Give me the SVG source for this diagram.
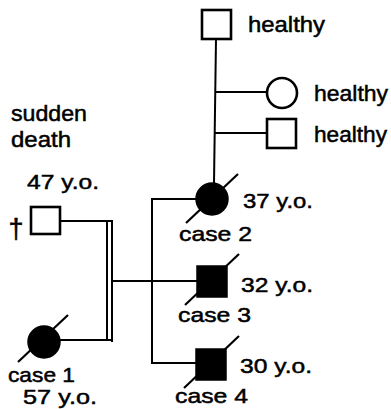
<svg xmlns="http://www.w3.org/2000/svg" width="391" height="409" viewBox="0 0 391 409">
<style>
.ln{stroke:#000;stroke-width:2;fill:none}
.open{fill:#fff;stroke:#000;stroke-width:2.6}
.fill{fill:#000;stroke:#000;stroke-width:1.5}
.sl{stroke:#000;stroke-width:2.2}
text{font-family:"Liberation Sans",Arial,sans-serif;fill:#000;stroke:#000;stroke-width:0.5}
.t{font-size:22px}
.n{font-size:21px}
</style>
<rect width="391" height="409" fill="#fff"/>
<g id="connectors">
<line class="ln" x1="216" y1="39" x2="214" y2="183"/>
<line class="ln" x1="215" y1="92" x2="267" y2="92"/>
<line class="ln" x1="215" y1="133" x2="267" y2="133"/>
<line class="ln" x1="61" y1="221" x2="113" y2="221"/>
<line class="ln" x1="112" y1="221" x2="112" y2="342"/>
<line class="ln" x1="107" y1="222" x2="107" y2="340"/>
<line class="ln" x1="59" y1="340" x2="113" y2="340"/>
<line class="ln" x1="112" y1="281" x2="197" y2="281"/>
<line class="ln" x1="152" y1="198" x2="152" y2="364"/>
<line class="ln" x1="151" y1="199" x2="197" y2="199"/>
<line class="ln" x1="151" y1="363" x2="196" y2="363"/>
</g>
<g id="grandfather">
<rect class="open" x="202" y="10" width="29" height="29"/>
<text class="t" x="248" y="32" textLength="77" lengthAdjust="spacingAndGlyphs">healthy</text>
</g>
<g id="aunt">
<circle class="open" cx="282" cy="93" r="15"/>
<text class="t" x="314" y="101" textLength="74" lengthAdjust="spacingAndGlyphs">healthy</text>
</g>
<g id="uncle">
<rect class="open" x="267" y="119" width="29" height="29"/>
<text class="t" x="314" y="142" textLength="73" lengthAdjust="spacingAndGlyphs">healthy</text>
</g>
<g id="father">
<text class="t" x="11" y="121" textLength="76" lengthAdjust="spacingAndGlyphs">sudden</text>
<text class="t" x="11" y="147" textLength="60" lengthAdjust="spacingAndGlyphs">death</text>
<text class="n" x="27" y="189" textLength="72" lengthAdjust="spacingAndGlyphs">47 y.o.</text>
<rect class="open" x="31" y="207" width="29" height="27"/>
<text x="16" y="238" font-size="27" text-anchor="middle" stroke-width="0.3">†</text>
</g>
<g id="case1">
<circle class="fill" cx="44" cy="342" r="16"/>
<line class="sl" x1="18" y1="362" x2="68" y2="315"/>
<text class="n" x="8" y="382" textLength="67" lengthAdjust="spacingAndGlyphs">case 1</text>
<text class="n" x="23" y="404" textLength="74" lengthAdjust="spacingAndGlyphs">57 y.o.</text>
</g>
<g id="case2">
<circle class="fill" cx="212" cy="199" r="16"/>
<line class="sl" x1="186" y1="223" x2="238" y2="174"/>
<text class="n" x="243" y="208" textLength="70" lengthAdjust="spacingAndGlyphs">37 y.o.</text>
<text class="n" x="179" y="241" textLength="73" lengthAdjust="spacingAndGlyphs">case 2</text>
</g>
<g id="case3">
<rect class="fill" x="197" y="266" width="30" height="31"/>
<line class="sl" x1="185" y1="305" x2="239" y2="254"/>
<text class="n" x="241" y="292" textLength="72" lengthAdjust="spacingAndGlyphs">32 y.o.</text>
<text class="n" x="178" y="322" textLength="73" lengthAdjust="spacingAndGlyphs">case 3</text>
</g>
<g id="case4">
<rect class="fill" x="196" y="349" width="30" height="31"/>
<line class="sl" x1="184" y1="388" x2="239" y2="336"/>
<text class="n" x="240" y="373" textLength="72" lengthAdjust="spacingAndGlyphs">30 y.o.</text>
<text class="n" x="175" y="403" textLength="73" lengthAdjust="spacingAndGlyphs">case 4</text>
</g>
</svg>
